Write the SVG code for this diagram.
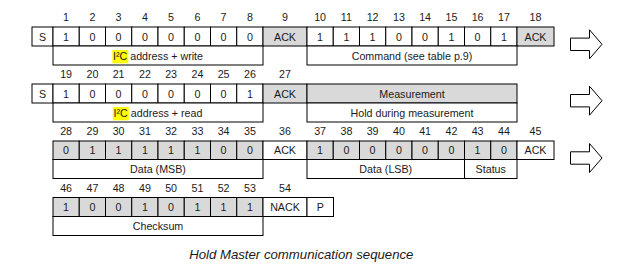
<svg xmlns="http://www.w3.org/2000/svg" width="625" height="273" viewBox="0 0 625 273">
<style>
rect.w{fill:#ffffff;stroke:#000;stroke-width:1}
rect.g{fill:#d9d9d9;stroke:#000;stroke-width:1}
rect.hl{fill:#ffff00;stroke:none}
text{font-family:"Liberation Sans",Arial,sans-serif;font-size:10.7px;fill:#1a1a1a;text-anchor:middle}
text.cap{font-size:13.2px;font-style:italic}
.arrow{fill:#fff;stroke:#000;stroke-width:1;stroke-linejoin:miter}
</style>
<rect width="625" height="273" fill="#fff"/>

<!-- bit numbers -->
<g id="numbers">
<text x="66.1" y="21">1</text><text x="92.4" y="21">2</text><text x="118.6" y="21">3</text><text x="144.9" y="21">4</text><text x="171.1" y="21">5</text><text x="197.4" y="21">6</text><text x="223.6" y="21">7</text><text x="249.9" y="21">8</text><text x="285" y="21">9</text>
<text x="320.1" y="21">10</text><text x="346.4" y="21">11</text><text x="372.6" y="21">12</text><text x="398.9" y="21">13</text><text x="425.1" y="21">14</text><text x="451.4" y="21">15</text><text x="477.6" y="21">16</text><text x="503.9" y="21">17</text><text x="535.5" y="21">18</text>
<text x="66.1" y="78">19</text><text x="92.4" y="78">20</text><text x="118.6" y="78">21</text><text x="144.9" y="78">22</text><text x="171.1" y="78">23</text><text x="197.4" y="78">24</text><text x="223.6" y="78">25</text><text x="249.9" y="78">26</text><text x="285" y="78">27</text>
<text x="66.1" y="135">28</text><text x="92.4" y="135">29</text><text x="118.6" y="135">30</text><text x="144.9" y="135">31</text><text x="171.1" y="135">32</text><text x="197.4" y="135">33</text><text x="223.6" y="135">34</text><text x="249.9" y="135">35</text><text x="285" y="135">36</text>
<text x="320.1" y="135">37</text><text x="346.4" y="135">38</text><text x="372.6" y="135">39</text><text x="398.9" y="135">40</text><text x="425.1" y="135">41</text><text x="451.4" y="135">42</text><text x="477.6" y="135">43</text><text x="503.9" y="135">44</text><text x="535.5" y="135">45</text>
<text x="66.1" y="191.5">46</text><text x="92.4" y="191.5">47</text><text x="118.6" y="191.5">48</text><text x="144.9" y="191.5">49</text><text x="171.1" y="191.5">50</text><text x="197.4" y="191.5">51</text><text x="223.6" y="191.5">52</text><text x="249.9" y="191.5">53</text><text x="285" y="191.5">54</text>
</g>

<!-- Row 1 -->
<g id="r1-start"><rect class="w" x="32" y="27" width="21" height="19"/><text x="42.5" y="40.5">S</text></g>
<g id="r1-address">
<rect class="w" x="53" y="27" width="26.25" height="19"/><text x="66.1" y="40.5">1</text>
<rect class="w" x="79.25" y="27" width="26.25" height="19"/><text x="92.4" y="40.5">0</text>
<rect class="w" x="105.5" y="27" width="26.25" height="19"/><text x="118.6" y="40.5">0</text>
<rect class="w" x="131.75" y="27" width="26.25" height="19"/><text x="144.9" y="40.5">0</text>
<rect class="w" x="158" y="27" width="26.25" height="19"/><text x="171.1" y="40.5">0</text>
<rect class="w" x="184.25" y="27" width="26.25" height="19"/><text x="197.4" y="40.5">0</text>
<rect class="w" x="210.5" y="27" width="26.25" height="19"/><text x="223.6" y="40.5">0</text>
<rect class="w" x="236.75" y="27" width="26.25" height="19"/><text x="249.9" y="40.5">0</text>
</g>
<g id="r1-ack"><rect class="g" x="263" y="27" width="44" height="19"/><text x="285" y="40.5">ACK</text></g>
<g id="r1-command">
<rect class="w" x="307" y="27" width="26.25" height="19"/><text x="320.1" y="40.5">1</text>
<rect class="w" x="333.25" y="27" width="26.25" height="19"/><text x="346.4" y="40.5">1</text>
<rect class="w" x="359.5" y="27" width="26.25" height="19"/><text x="372.6" y="40.5">1</text>
<rect class="w" x="385.75" y="27" width="26.25" height="19"/><text x="398.9" y="40.5">0</text>
<rect class="w" x="412" y="27" width="26.25" height="19"/><text x="425.1" y="40.5">0</text>
<rect class="w" x="438.25" y="27" width="26.25" height="19"/><text x="451.4" y="40.5">1</text>
<rect class="w" x="464.5" y="27" width="26.25" height="19"/><text x="477.6" y="40.5">0</text>
<rect class="w" x="490.75" y="27" width="26.25" height="19"/><text x="503.9" y="40.5">1</text>
</g>
<g id="r1-ack2"><rect class="g" x="517" y="27" width="37" height="19"/><text x="535.5" y="40.5">ACK</text></g>
<g id="r1-label-address"><rect class="w" x="53" y="46" width="210" height="19"/><rect class="hl" x="112.3" y="50" width="16" height="13.3"/><text x="158" y="59.5">I²C address + write</text></g>
<g id="r1-label-command"><rect class="w" x="307" y="46" width="210" height="19"/><text x="412" y="59.5">Command (see table p.9)</text></g>

<!-- Row 2 -->
<g id="r2-start"><rect class="w" x="32" y="84" width="21" height="19"/><text x="42.5" y="97.5">S</text></g>
<g id="r2-address">
<rect class="w" x="53" y="84" width="26.25" height="19"/><text x="66.1" y="97.5">1</text>
<rect class="w" x="79.25" y="84" width="26.25" height="19"/><text x="92.4" y="97.5">0</text>
<rect class="w" x="105.5" y="84" width="26.25" height="19"/><text x="118.6" y="97.5">0</text>
<rect class="w" x="131.75" y="84" width="26.25" height="19"/><text x="144.9" y="97.5">0</text>
<rect class="w" x="158" y="84" width="26.25" height="19"/><text x="171.1" y="97.5">0</text>
<rect class="w" x="184.25" y="84" width="26.25" height="19"/><text x="197.4" y="97.5">0</text>
<rect class="w" x="210.5" y="84" width="26.25" height="19"/><text x="223.6" y="97.5">0</text>
<rect class="w" x="236.75" y="84" width="26.25" height="19"/><text x="249.9" y="97.5">1</text>
</g>
<g id="r2-ack"><rect class="g" x="263" y="84" width="44" height="19"/><text x="285" y="97.5">ACK</text></g>
<g id="r2-measurement"><rect class="g" x="307" y="84" width="210" height="19"/><text x="412" y="97.5">Measurement</text></g>
<g id="r2-label-address"><rect class="w" x="53" y="103" width="210" height="19"/><rect class="hl" x="112.8" y="107" width="16" height="13.3"/><text x="158" y="116.5">I²C address + read</text></g>
<g id="r2-label-hold"><rect class="w" x="307" y="103" width="210" height="19"/><text x="412" y="116.5">Hold during measurement</text></g>

<!-- Row 3 -->
<g id="r3-msb">
<rect class="g" x="53" y="141" width="26.25" height="18.5"/><text x="66.1" y="154.3">0</text>
<rect class="g" x="79.25" y="141" width="26.25" height="18.5"/><text x="92.4" y="154.3">1</text>
<rect class="g" x="105.5" y="141" width="26.25" height="18.5"/><text x="118.6" y="154.3">1</text>
<rect class="g" x="131.75" y="141" width="26.25" height="18.5"/><text x="144.9" y="154.3">1</text>
<rect class="g" x="158" y="141" width="26.25" height="18.5"/><text x="171.1" y="154.3">1</text>
<rect class="g" x="184.25" y="141" width="26.25" height="18.5"/><text x="197.4" y="154.3">1</text>
<rect class="g" x="210.5" y="141" width="26.25" height="18.5"/><text x="223.6" y="154.3">0</text>
<rect class="g" x="236.75" y="141" width="26.25" height="18.5"/><text x="249.9" y="154.3">0</text>
</g>
<g id="r3-ack"><rect class="w" x="263" y="141" width="44" height="18.5"/><text x="285" y="154.3">ACK</text></g>
<g id="r3-lsb">
<rect class="g" x="307" y="141" width="26.25" height="18.5"/><text x="320.1" y="154.3">1</text>
<rect class="g" x="333.25" y="141" width="26.25" height="18.5"/><text x="346.4" y="154.3">0</text>
<rect class="g" x="359.5" y="141" width="26.25" height="18.5"/><text x="372.6" y="154.3">0</text>
<rect class="g" x="385.75" y="141" width="26.25" height="18.5"/><text x="398.9" y="154.3">0</text>
<rect class="g" x="412" y="141" width="26.25" height="18.5"/><text x="425.1" y="154.3">0</text>
<rect class="g" x="438.25" y="141" width="26.25" height="18.5"/><text x="451.4" y="154.3">0</text>
<rect class="g" x="464.5" y="141" width="26.25" height="18.5"/><text x="477.6" y="154.3">1</text>
<rect class="g" x="490.75" y="141" width="26.25" height="18.5"/><text x="503.9" y="154.3">0</text>
</g>
<g id="r3-ack2"><rect class="w" x="517" y="141" width="37" height="18.5"/><text x="535.5" y="154.3">ACK</text></g>
<g id="r3-label-msb"><rect class="w" x="53" y="159.5" width="210" height="19"/><text x="158" y="173">Data (MSB)</text></g>
<g id="r3-label-lsb"><rect class="w" x="307" y="159.5" width="157.5" height="19"/><text x="385.75" y="173">Data (LSB)</text></g>
<g id="r3-label-status"><rect class="w" x="464.5" y="159.5" width="52.5" height="19"/><text x="490.75" y="173">Status</text></g>

<!-- Row 4 -->
<g id="r4-checksum">
<rect class="g" x="53" y="197.5" width="26.25" height="19"/><text x="66.1" y="211">1</text>
<rect class="g" x="79.25" y="197.5" width="26.25" height="19"/><text x="92.4" y="211">0</text>
<rect class="g" x="105.5" y="197.5" width="26.25" height="19"/><text x="118.6" y="211">0</text>
<rect class="g" x="131.75" y="197.5" width="26.25" height="19"/><text x="144.9" y="211">1</text>
<rect class="g" x="158" y="197.5" width="26.25" height="19"/><text x="171.1" y="211">0</text>
<rect class="g" x="184.25" y="197.5" width="26.25" height="19"/><text x="197.4" y="211">1</text>
<rect class="g" x="210.5" y="197.5" width="26.25" height="19"/><text x="223.6" y="211">1</text>
<rect class="g" x="236.75" y="197.5" width="26.25" height="19"/><text x="249.9" y="211">1</text>
</g>
<g id="r4-nack"><rect class="w" x="263" y="197.5" width="44" height="19"/><text x="285" y="211">NACK</text></g>
<g id="r4-stop"><rect class="w" x="307" y="197.5" width="26.5" height="19"/><text x="320.2" y="211">P</text></g>
<g id="r4-label-checksum"><rect class="w" x="53" y="216.5" width="210" height="19"/><text x="158" y="230">Checksum</text></g>

<!-- continuation arrows -->
<g id="connectors">
<path class="arrow" d="M570.5,38.1 H589.5 V29.8 L602,44.3 L589.5,58.8 V50.5 H570.5 Z"/>
<path class="arrow" d="M570.5,94.5 H589.5 V86.2 L602,100.7 L589.5,115.2 V106.9 H570.5 Z"/>
<path class="arrow" d="M570.5,151.8 H589.5 V143.5 L602,158 L589.5,172.5 V164.2 H570.5 Z"/>
</g>

<text class="cap" x="301.3" y="259">Hold Master communication sequence</text>
</svg>
